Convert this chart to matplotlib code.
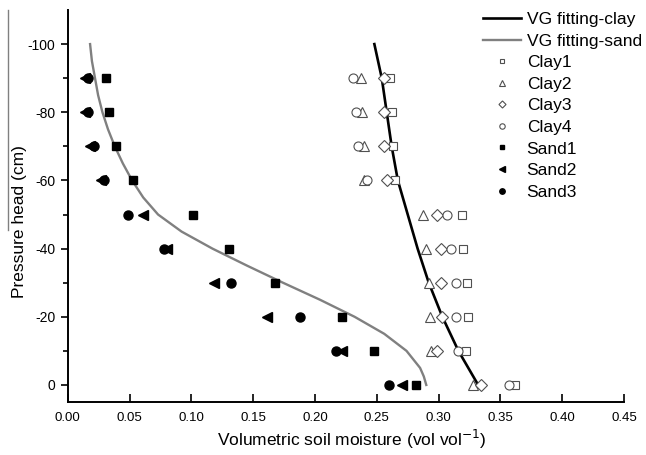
import matplotlib
import matplotlib.pyplot as plt
from matplotlib.lines import Line2D

matplotlib.use('Agg')
plt.rcParams['font.family'] = ['Liberation Sans', 'DejaVu Sans']
plt.rcParams['axes.unicode_minus'] = False

# pressure head levels (cm)
heads = [-90, -80, -70, -60, -50, -40, -30, -20, -10, 0]

clay1 = [0.261, 0.262, 0.263, 0.265, 0.319, 0.320, 0.323, 0.324, 0.322, 0.362]
clay2 = [0.237, 0.238, 0.240, 0.240, 0.287, 0.290, 0.292, 0.293, 0.294, 0.328]
clay3 = [0.256, 0.256, 0.256, 0.258, 0.299, 0.302, 0.302, 0.303, 0.299, 0.334]
clay4 = [0.231, 0.233, 0.235, 0.242, 0.307, 0.310, 0.314, 0.314, 0.316, 0.357]

sand1 = [0.031, 0.033, 0.039, 0.053, 0.101, 0.130, 0.168, 0.222, 0.248, 0.282]
sand2 = [0.014, 0.014, 0.018, 0.027, 0.061, 0.080, 0.118, 0.161, 0.222, 0.270]
sand3 = [0.016, 0.016, 0.021, 0.029, 0.049, 0.078, 0.132, 0.188, 0.217, 0.260]

# fitted curves
clay_fit_h = [-100, -90, -80, -70, -60, -50, -40, -30, -20, -10, 0]
clay_fit_theta = [0.248, 0.254, 0.258, 0.262, 0.267, 0.275, 0.283, 0.292, 0.303, 0.316, 0.332]

sand_fit_h = [-100, -95, -90, -85, -80, -75, -70, -65, -60, -55, -50, -45, -40,
              -35, -30, -25, -20, -15, -10, -5, -2.5, 0]
sand_fit_theta = [0.018, 0.0195, 0.022, 0.0245, 0.028, 0.0325, 0.038, 0.0445, 0.052,
                  0.061, 0.073, 0.092, 0.117, 0.145, 0.174, 0.204, 0.232, 0.256,
                  0.274, 0.285, 0.288, 0.290]

fig = plt.figure(figsize=(6.46, 4.55), dpi=100)
ax = fig.add_axes([0.105, 0.1165, 0.861, 0.8615])

ax.plot(clay_fit_theta, clay_fit_h, color='black', lw=1.9, label='VG fitting-clay')
ax.plot(sand_fit_theta, sand_fit_h, color='#808080', lw=1.7, label='VG fitting-sand')

grey = '#505050'
ax.plot(clay1, heads, ls='none', marker='s', ms=6, mfc='white', mec=grey, mew=0.8, label='Clay1')
ax.plot(clay2, heads, ls='none', marker='^', ms=7, mfc='white', mec=grey, mew=0.8, label='Clay2')
ax.plot(clay3, heads, ls='none', marker='D', ms=6, mfc='white', mec=grey, mew=0.8, label='Clay3')
ax.plot(clay4, heads, ls='none', marker='o', ms=6.5, mfc='white', mec=grey, mew=0.8, label='Clay4')
ax.plot(sand1, heads, ls='none', marker='s', ms=6, color='black', label='Sand1')
ax.plot(sand2, heads, ls='none', marker='<', ms=7, color='black', label='Sand2')
ax.plot(sand3, heads, ls='none', marker='o', ms=6.5, color='black', label='Sand3')

ax.set_xlim(0, 0.45)
ax.set_ylim(5, -110)
ax.set_xticks([i * 0.05 for i in range(10)])
ax.set_yticks([-100, -80, -60, -40, -20, 0])
ax.set_yticks([-90, -70, -50, -30, -10], minor=True)
ax.xaxis.set_major_formatter(plt.FuncFormatter(lambda v, p: f'{v:.2f}'))

ax.spines['top'].set_visible(False)
ax.spines['right'].set_visible(False)
ax.spines['left'].set_linewidth(1.4)
ax.spines['bottom'].set_linewidth(1.4)
ax.tick_params(axis='x', direction='in', length=6, width=1.2, labelsize=9.5, pad=7)
ax.tick_params(axis='y', which='major', direction='out', length=5, width=1.2, labelsize=10, pad=4)
ax.tick_params(axis='y', which='minor', direction='out', length=3.5, width=1.2)

ax.set_xlabel('Volumetric soil moisture (vol vol$^{-1}$)', fontsize=12.5)
ax.xaxis.set_label_coords(0.51, -0.065)
ax.set_ylabel('Pressure head (cm)', fontsize=12.5)
ax.yaxis.set_label_coords(-0.074, 0.46)

leg = ax.legend(loc='upper right', bbox_to_anchor=(1.06, 1.035), frameon=False, fontsize=12.5,
                markerscale=0.6, handlelength=2.2, labelspacing=0.37, handletextpad=0.3)

fig.add_artist(Line2D([0.0125, 0.0125], [0.978, 0.495], color='#808080', lw=1.0))

fig.savefig('out.png', dpi=100)
